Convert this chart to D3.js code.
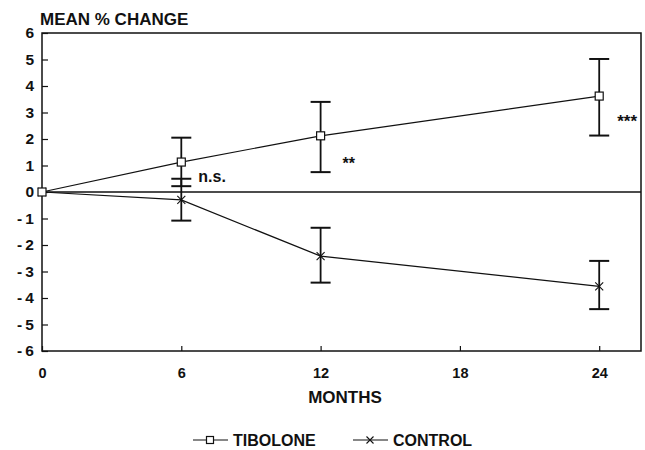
<!DOCTYPE html>
<html lang="en">
<head>
<meta charset="utf-8">
<title>mean % change</title>
<script src="https://d3js.org/d3.v7.min.js"></script>
<style>
  body { margin: 0; background: #fff; }
  text { font-family: "Liberation Sans", Arial, sans-serif; font-weight: bold; fill: #111; }
</style>
</head>
<body>
<script>
// ---- data ----
var months = [0, 6, 12, 24];
var tiboloneMean = [0, 1.13, 2.12, 3.62];
var tiboloneLow  = [0, 0.22, 0.75, 2.13];
var tiboloneHigh = [0, 2.05, 3.4, 5.02];
var controlMean = [0, -0.3, -2.42, -3.56];
var controlLow  = [0, -1.08, -3.42, -4.42];
var controlHigh = [0, 0.5, -1.35, -2.6];
var xTicks = [0, 6, 12, 18, 24];
var yTicks = [-6, -5, -4, -3, -2, -1, 0, 1, 2, 3, 4, 5, 6];
var signif = [{m: 6, v: 0.38, label: "n.s."}, {m: 12, v: 0.87, label: "**"}, {m: 24, v: 2.45, label: "***"}];

var w = 645, h = 450;
var padL = 42, padR = 641, padT = 33, padB = 351;

var svg = d3.select("body").append("svg").attr("width", w).attr("height", h);

var x = d3.scaleLinear().domain([0, 25.8]).range([padL, padR]);
var y = d3.scaleLinear().domain([-6, 6]).range([padB, padT]);

// frame
svg.append("rect")
  .attr("x", padL).attr("y", padT)
  .attr("width", padR - padL).attr("height", padB - padT)
  .attr("fill", "none").attr("stroke", "#111").attr("stroke-width", 1.5);

// zero line
svg.append("line")
  .attr("x1", padL).attr("x2", padR)
  .attr("y1", y(0)).attr("y2", y(0))
  .attr("stroke", "#111").attr("stroke-width", 1.3);

// y axis (ticks point inwards)
var yAxis = d3.axisLeft(y).tickValues(yTicks).tickSize(-6).tickPadding(8)
  .tickFormat(function(d) { return d < 0 ? "-\u2009" + Math.abs(d) : d; });
var gy = svg.append("g").attr("transform", "translate(" + padL + ",0)").call(yAxis);
gy.select(".domain").remove();
gy.selectAll("line").attr("stroke", "#111").attr("stroke-width", 1.2);
gy.selectAll("text").style("font-size", "15.5px").attr("fill", "#111");

// x axis
var xAxis = d3.axisBottom(x).tickValues(xTicks).tickSize(-5).tickPadding(17);
var gx = svg.append("g").attr("transform", "translate(0," + padB + ")").call(xAxis);
gx.select(".domain").remove();
gx.selectAll("line").attr("stroke", "#111").attr("stroke-width", 1.2);
gx.selectAll("text").style("font-size", "14.5px").attr("fill", "#111");

// titles
svg.append("text").attr("x", 40).attr("y", 25).style("font-size", "17px").text("MEAN % CHANGE");
svg.append("text").attr("x", 345).attr("y", 403).attr("text-anchor", "middle").style("font-size", "17px").text("MONTHS");

var line = d3.line().x(function(d) { return x(d[0]); }).y(function(d) { return y(d[1]); });

function drawSeries(mean, low, high, marker) {
  var pts = months.map(function(m, i) { return [m, mean[i]]; });
  svg.append("path").attr("d", line(pts)).attr("fill", "none").attr("stroke", "#111").attr("stroke-width", 1.2);

  months.forEach(function(m, i) {
    if (m === 0) return;
    var cx = x(m);
    svg.append("line").attr("x1", cx).attr("x2", cx).attr("y1", y(low[i])).attr("y2", y(high[i]))
      .attr("stroke", "#111").attr("stroke-width", 1.8);
    [low[i], high[i]].forEach(function(v) {
      svg.append("line").attr("x1", cx - 10).attr("x2", cx + 10).attr("y1", y(v)).attr("y2", y(v))
        .attr("stroke", "#111").attr("stroke-width", 2);
    });
  });

  months.forEach(function(m, i) {
    marker(svg, x(m), y(mean[i]), 4);
  });
}

function square(g, cx, cy, r) {
  g.append("rect").attr("x", cx - r).attr("y", cy - r).attr("width", 2 * r).attr("height", 2 * r)
    .attr("fill", "#fff").attr("stroke", "#111").attr("stroke-width", 1.2);
}
function cross(g, cx, cy, r) {
  g.append("path").attr("d", "M" + (cx - r) + "," + (cy - r) + "L" + (cx + r) + "," + (cy + r) +
    "M" + (cx - r) + "," + (cy + r) + "L" + (cx + r) + "," + (cy - r))
    .attr("stroke", "#111").attr("stroke-width", 1.1).attr("fill", "none");
}

drawSeries(controlMean, controlLow, controlHigh, cross);
drawSeries(tiboloneMean, tiboloneLow, tiboloneHigh, square);

// significance labels
var sigStyle = {"n.s.": {dx: 17, size: 16}, "**": {dx: 22, size: 16}, "***": {dx: 18, size: 17}};
signif.forEach(function(s) {
  var st = sigStyle[s.label];
  svg.append("text").attr("x", x(s.m) + st.dx).attr("y", y(s.v))
    .style("font-size", st.size + "px").text(s.label);
});

// legend
var legend = [{name: "TIBOLONE", mk: square, x0: 193}, {name: "CONTROL", mk: cross, x0: 353}];
legend.forEach(function(l) {
  var ly = 440;
  svg.append("line").attr("x1", l.x0).attr("x2", l.x0 + 35).attr("y1", ly).attr("y2", ly)
    .attr("stroke", "#111").attr("stroke-width", 1.1);
  l.mk(svg, l.x0 + 17, ly, 3.5);
  svg.append("text").attr("x", l.x0 + 40).attr("y", ly + 6).style("font-size", "16px").text(l.name);
});
</script>
</body>
</html>
